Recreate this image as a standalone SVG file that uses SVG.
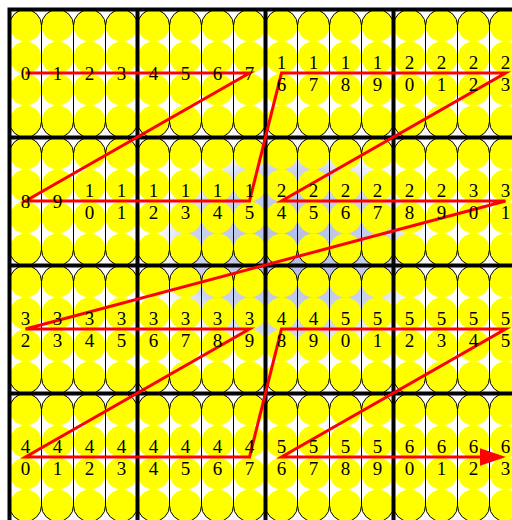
<svg xmlns="http://www.w3.org/2000/svg" xmlns:xlink="http://www.w3.org/1999/xlink" width="512" height="520" viewBox="0 0 512 520">
<style>
.c{fill:#ffff00}
.p{fill:none;stroke:#000;stroke-width:1}
.grid{fill:none;stroke:#000;stroke-width:4}
.path{fill:none;stroke:#ff0000;stroke-width:3;stroke-linejoin:miter}
.l{font-family:"Liberation Serif","Times New Roman",serif;font-size:19px;fill:#000;text-anchor:middle}
</style>
<defs>
<radialGradient id="tex" cx="0.5" cy="0.5" r="0.5">
<stop offset="0" stop-color="#aebbe6"/>
<stop offset="0.65" stop-color="#cbd3f0"/>
<stop offset="1" stop-color="#ffffff" stop-opacity="0"/>
</radialGradient>
<g id="blk">
<circle class="c" cx="16" cy="16" r="16"/><circle class="c" cx="16" cy="48" r="16"/><circle class="c" cx="16" cy="80" r="16"/><circle class="c" cx="16" cy="112" r="16"/>
<circle class="c" cx="48" cy="16" r="16"/><circle class="c" cx="48" cy="48" r="16"/><circle class="c" cx="48" cy="80" r="16"/><circle class="c" cx="48" cy="112" r="16"/>
<circle class="c" cx="80" cy="16" r="16"/><circle class="c" cx="80" cy="48" r="16"/><circle class="c" cx="80" cy="80" r="16"/><circle class="c" cx="80" cy="112" r="16"/>
<circle class="c" cx="112" cy="16" r="16"/><circle class="c" cx="112" cy="48" r="16"/><circle class="c" cx="112" cy="80" r="16"/><circle class="c" cx="112" cy="112" r="16"/>
<rect class="p" x="0" y="0" width="32" height="128" rx="16"/>
<rect class="p" x="32" y="0" width="32" height="128" rx="16"/>
<rect class="p" x="64" y="0" width="32" height="128" rx="16"/>
<rect class="p" x="96" y="0" width="32" height="128" rx="16"/>
</g>
<marker id="arrow" markerUnits="userSpaceOnUse" markerWidth="26" markerHeight="18" viewBox="0 0 25 17" refX="3" refY="8.5" orient="auto">
<path d="M0,0 L25,8.5 L0,17 z" fill="#ff0000"/>
</marker>
</defs>
<rect x="0" y="0" width="512" height="520" fill="#ffffff"/>
<ellipse cx="290" cy="250" rx="155" ry="128" fill="url(#tex)"/>
<g id="blocks">
<use xlink:href="#blk" x="9.5" y="9.5"/><use xlink:href="#blk" x="137.5" y="9.5"/><use xlink:href="#blk" x="265.5" y="9.5"/><use xlink:href="#blk" x="393.5" y="9.5"/>
<use xlink:href="#blk" x="9.5" y="137.5"/><use xlink:href="#blk" x="137.5" y="137.5"/><use xlink:href="#blk" x="265.5" y="137.5"/><use xlink:href="#blk" x="393.5" y="137.5"/>
<use xlink:href="#blk" x="9.5" y="265.5"/><use xlink:href="#blk" x="137.5" y="265.5"/><use xlink:href="#blk" x="265.5" y="265.5"/><use xlink:href="#blk" x="393.5" y="265.5"/>
<use xlink:href="#blk" x="9.5" y="393.5"/><use xlink:href="#blk" x="137.5" y="393.5"/><use xlink:href="#blk" x="265.5" y="393.5"/><use xlink:href="#blk" x="393.5" y="393.5"/>
</g>
<g id="grid">
<path class="grid" d="M9.5,7.5 V522 M137.5,7.5 V522 M265.5,7.5 V522 M393.5,7.5 V522 M7.5,9.5 H514 M7.5,137.5 H514 M7.5,265.5 H514 M7.5,393.5 H514"/>
</g>
<g id="connectors">
<path class="path" marker-end="url(#arrow)" d="M25.5,73 L249.5,73 L25.5,201 L249.5,201 L281.5,73 L505.5,73 L281.5,201 L505.5,201 L25.5,329 L249.5,329 L25.5,457 L249.5,457 L281.5,329 L505.5,329 L281.5,457 L483,457"/>
</g>
<g id="labels">
<g id="n0"><text class="l" x="25.5" y="80.3">0</text></g>
<g id="n1"><text class="l" x="57.5" y="80.3">1</text></g>
<g id="n2"><text class="l" x="89.5" y="80.3">2</text></g>
<g id="n3"><text class="l" x="121.5" y="80.3">3</text></g>
<g id="n4"><text class="l" x="153.5" y="80.3">4</text></g>
<g id="n5"><text class="l" x="185.5" y="80.3">5</text></g>
<g id="n6"><text class="l" x="217.5" y="80.3">6</text></g>
<g id="n7"><text class="l" x="249.5" y="80.3">7</text></g>
<g id="n8"><text class="l" x="25.5" y="208.3">8</text></g>
<g id="n9"><text class="l" x="57.5" y="208.3">9</text></g>
<g id="n10"><text class="l"><tspan x="89.5" y="197.2">1</tspan><tspan x="89.5" y="218.9">0</tspan></text></g>
<g id="n11"><text class="l"><tspan x="121.5" y="197.2">1</tspan><tspan x="121.5" y="218.9">1</tspan></text></g>
<g id="n12"><text class="l"><tspan x="153.5" y="197.2">1</tspan><tspan x="153.5" y="218.9">2</tspan></text></g>
<g id="n13"><text class="l"><tspan x="185.5" y="197.2">1</tspan><tspan x="185.5" y="218.9">3</tspan></text></g>
<g id="n14"><text class="l"><tspan x="217.5" y="197.2">1</tspan><tspan x="217.5" y="218.9">4</tspan></text></g>
<g id="n15"><text class="l"><tspan x="249.5" y="197.2">1</tspan><tspan x="249.5" y="218.9">5</tspan></text></g>
<g id="n16"><text class="l"><tspan x="281.5" y="69.2">1</tspan><tspan x="281.5" y="90.9">6</tspan></text></g>
<g id="n17"><text class="l"><tspan x="313.5" y="69.2">1</tspan><tspan x="313.5" y="90.9">7</tspan></text></g>
<g id="n18"><text class="l"><tspan x="345.5" y="69.2">1</tspan><tspan x="345.5" y="90.9">8</tspan></text></g>
<g id="n19"><text class="l"><tspan x="377.5" y="69.2">1</tspan><tspan x="377.5" y="90.9">9</tspan></text></g>
<g id="n20"><text class="l"><tspan x="409.5" y="69.2">2</tspan><tspan x="409.5" y="90.9">0</tspan></text></g>
<g id="n21"><text class="l"><tspan x="441.5" y="69.2">2</tspan><tspan x="441.5" y="90.9">1</tspan></text></g>
<g id="n22"><text class="l"><tspan x="473.5" y="69.2">2</tspan><tspan x="473.5" y="90.9">2</tspan></text></g>
<g id="n23"><text class="l"><tspan x="505.5" y="69.2">2</tspan><tspan x="505.5" y="90.9">3</tspan></text></g>
<g id="n24"><text class="l"><tspan x="281.5" y="197.2">2</tspan><tspan x="281.5" y="218.9">4</tspan></text></g>
<g id="n25"><text class="l"><tspan x="313.5" y="197.2">2</tspan><tspan x="313.5" y="218.9">5</tspan></text></g>
<g id="n26"><text class="l"><tspan x="345.5" y="197.2">2</tspan><tspan x="345.5" y="218.9">6</tspan></text></g>
<g id="n27"><text class="l"><tspan x="377.5" y="197.2">2</tspan><tspan x="377.5" y="218.9">7</tspan></text></g>
<g id="n28"><text class="l"><tspan x="409.5" y="197.2">2</tspan><tspan x="409.5" y="218.9">8</tspan></text></g>
<g id="n29"><text class="l"><tspan x="441.5" y="197.2">2</tspan><tspan x="441.5" y="218.9">9</tspan></text></g>
<g id="n30"><text class="l"><tspan x="473.5" y="197.2">3</tspan><tspan x="473.5" y="218.9">0</tspan></text></g>
<g id="n31"><text class="l"><tspan x="505.5" y="197.2">3</tspan><tspan x="505.5" y="218.9">1</tspan></text></g>
<g id="n32"><text class="l"><tspan x="25.5" y="325.2">3</tspan><tspan x="25.5" y="346.9">2</tspan></text></g>
<g id="n33"><text class="l"><tspan x="57.5" y="325.2">3</tspan><tspan x="57.5" y="346.9">3</tspan></text></g>
<g id="n34"><text class="l"><tspan x="89.5" y="325.2">3</tspan><tspan x="89.5" y="346.9">4</tspan></text></g>
<g id="n35"><text class="l"><tspan x="121.5" y="325.2">3</tspan><tspan x="121.5" y="346.9">5</tspan></text></g>
<g id="n36"><text class="l"><tspan x="153.5" y="325.2">3</tspan><tspan x="153.5" y="346.9">6</tspan></text></g>
<g id="n37"><text class="l"><tspan x="185.5" y="325.2">3</tspan><tspan x="185.5" y="346.9">7</tspan></text></g>
<g id="n38"><text class="l"><tspan x="217.5" y="325.2">3</tspan><tspan x="217.5" y="346.9">8</tspan></text></g>
<g id="n39"><text class="l"><tspan x="249.5" y="325.2">3</tspan><tspan x="249.5" y="346.9">9</tspan></text></g>
<g id="n40"><text class="l"><tspan x="25.5" y="453.2">4</tspan><tspan x="25.5" y="474.9">0</tspan></text></g>
<g id="n41"><text class="l"><tspan x="57.5" y="453.2">4</tspan><tspan x="57.5" y="474.9">1</tspan></text></g>
<g id="n42"><text class="l"><tspan x="89.5" y="453.2">4</tspan><tspan x="89.5" y="474.9">2</tspan></text></g>
<g id="n43"><text class="l"><tspan x="121.5" y="453.2">4</tspan><tspan x="121.5" y="474.9">3</tspan></text></g>
<g id="n44"><text class="l"><tspan x="153.5" y="453.2">4</tspan><tspan x="153.5" y="474.9">4</tspan></text></g>
<g id="n45"><text class="l"><tspan x="185.5" y="453.2">4</tspan><tspan x="185.5" y="474.9">5</tspan></text></g>
<g id="n46"><text class="l"><tspan x="217.5" y="453.2">4</tspan><tspan x="217.5" y="474.9">6</tspan></text></g>
<g id="n47"><text class="l"><tspan x="249.5" y="453.2">4</tspan><tspan x="249.5" y="474.9">7</tspan></text></g>
<g id="n48"><text class="l"><tspan x="281.5" y="325.2">4</tspan><tspan x="281.5" y="346.9">8</tspan></text></g>
<g id="n49"><text class="l"><tspan x="313.5" y="325.2">4</tspan><tspan x="313.5" y="346.9">9</tspan></text></g>
<g id="n50"><text class="l"><tspan x="345.5" y="325.2">5</tspan><tspan x="345.5" y="346.9">0</tspan></text></g>
<g id="n51"><text class="l"><tspan x="377.5" y="325.2">5</tspan><tspan x="377.5" y="346.9">1</tspan></text></g>
<g id="n52"><text class="l"><tspan x="409.5" y="325.2">5</tspan><tspan x="409.5" y="346.9">2</tspan></text></g>
<g id="n53"><text class="l"><tspan x="441.5" y="325.2">5</tspan><tspan x="441.5" y="346.9">3</tspan></text></g>
<g id="n54"><text class="l"><tspan x="473.5" y="325.2">5</tspan><tspan x="473.5" y="346.9">4</tspan></text></g>
<g id="n55"><text class="l"><tspan x="505.5" y="325.2">5</tspan><tspan x="505.5" y="346.9">5</tspan></text></g>
<g id="n56"><text class="l"><tspan x="281.5" y="453.2">5</tspan><tspan x="281.5" y="474.9">6</tspan></text></g>
<g id="n57"><text class="l"><tspan x="313.5" y="453.2">5</tspan><tspan x="313.5" y="474.9">7</tspan></text></g>
<g id="n58"><text class="l"><tspan x="345.5" y="453.2">5</tspan><tspan x="345.5" y="474.9">8</tspan></text></g>
<g id="n59"><text class="l"><tspan x="377.5" y="453.2">5</tspan><tspan x="377.5" y="474.9">9</tspan></text></g>
<g id="n60"><text class="l"><tspan x="409.5" y="453.2">6</tspan><tspan x="409.5" y="474.9">0</tspan></text></g>
<g id="n61"><text class="l"><tspan x="441.5" y="453.2">6</tspan><tspan x="441.5" y="474.9">1</tspan></text></g>
<g id="n62"><text class="l"><tspan x="473.5" y="453.2">6</tspan><tspan x="473.5" y="474.9">2</tspan></text></g>
<g id="n63"><text class="l"><tspan x="505.5" y="453.2">6</tspan><tspan x="505.5" y="474.9">3</tspan></text></g>
</g>
</svg>
